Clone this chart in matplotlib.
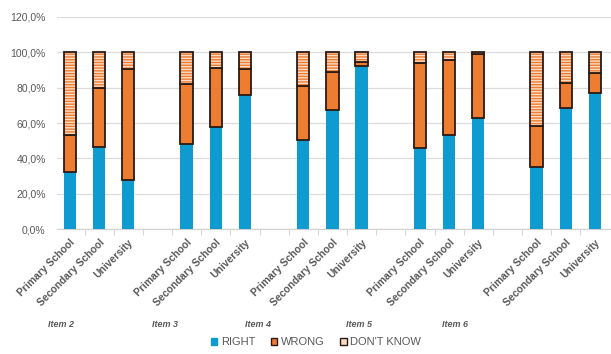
import numpy as np
import matplotlib
matplotlib.use('Agg')
import matplotlib.pyplot as plt
from matplotlib.patches import Patch
from matplotlib.ticker import FuncFormatter, MultipleLocator
import matplotlib.transforms as mtransforms

plt.rcParams['font.family'] = ['Liberation Sans', 'DejaVu Sans']

items = ['Item 2', 'Item 3', 'Item 4', 'Item 5', 'Item 6']
levels = ['Primary School', 'Secondary School', 'University']

# percentages per item, in order of levels
right = [[32.5, 46.5, 27.5],
         [48.0, 58.0, 76.0],
         [50.5, 67.5, 92.5],
         [46.0, 53.0, 63.0],
         [35.0, 68.5, 77.0]]
wrong = [[21.0, 33.5, 63.0],
         [34.0, 33.0, 14.5],
         [30.5, 21.5, 2.0],
         [48.0, 42.5, 36.0],
         [23.5, 14.0, 11.5]]
dont_know = [[46.5, 20.0, 9.5],
             [18.0, 9.0, 9.5],
             [19.0, 11.0, 5.5],
             [6.0, 4.5, 1.0],
             [41.5, 17.5, 11.5]]

BLUE = '#0e9bd0'
ORANGE = '#ed7d31'
PEACH = '#f9dcc6'
GRAY = '#595959'
EDGE = '#2b1a14'

fig = plt.figure(figsize=(6.11, 3.54), dpi=100)
ax = fig.add_axes([0.093, 0.353, 0.907, 0.599])

# 3 bars per item, one empty slot between items
xs, r, w, d = [], [], [], []
for i in range(len(items)):
    for j in range(len(levels)):
        xs.append(i * 4 + j)
        r.append(right[i][j])
        w.append(wrong[i][j])
        d.append(dont_know[i][j])
xs = np.array(xs)
r, w, d = np.array(r), np.array(w), np.array(d)

bw = 0.42
ax.bar(xs, r, bw, color=BLUE, zorder=3)
ax.bar(xs, w, bw, bottom=r, color=ORANGE, edgecolor=EDGE, linewidth=1.3, zorder=3)
ax.bar(xs, d, bw, bottom=r + w, color=PEACH, edgecolor=ORANGE,
       hatch='------', linewidth=0, zorder=3)
ax.bar(xs, d, bw, bottom=r + w, fill=False, edgecolor=EDGE, linewidth=1.3, zorder=4)

ax.set_ylim(0, 120)
ax.set_xlim(-0.45, 18.55)
ax.yaxis.set_major_locator(MultipleLocator(20))
ax.yaxis.set_major_formatter(FuncFormatter(lambda v, p: f'{v:.1f}%'.replace('.', ',')))
ax.grid(axis='y', color='#dcdcdc', linewidth=0.9, zorder=0)
for s in ['top', 'right', 'left']:
    ax.spines[s].set_visible(False)
ax.spines['bottom'].set_color('#d0d0d0')
ax.tick_params(axis='y', length=0, labelsize=7.5, labelcolor=GRAY, pad=8)

ax.set_xticks(xs)
ax.set_xticklabels([levels[k % 3] for k in range(len(xs))], rotation=45,
                   ha='right', rotation_mode='anchor', fontsize=7.4,
                   color=GRAY, fontweight='bold')
ax.tick_params(axis='x', length=0, pad=6)
# tick marks between slots
bounds = np.arange(0.5, 18.5, 1.0)
ax.set_xticks(bounds, minor=True)
ax.tick_params(axis='x', which='minor', length=4, color='#d0d0d0')

trans = mtransforms.blended_transform_factory(ax.transData, fig.transFigure)
item_x = [-0.3, 3.25, 6.45, 9.9, 13.2]
for name, x in zip(items, item_x):
    ax.text(x, 0.082, name, transform=trans, ha='center', va='center',
            fontsize=6.5, color=GRAY, fontstyle='italic', fontweight='bold')

handles = [Patch(facecolor=BLUE, edgecolor=BLUE),
           Patch(facecolor=ORANGE, edgecolor=EDGE),
           Patch(facecolor=PEACH, edgecolor=EDGE)]
leg = fig.legend(handles, ['RIGHT', 'WRONG', "DON'T KNOW"], loc='center',
                 bbox_to_anchor=(0.517, 0.033), ncol=3, frameon=False,
                 fontsize=8, handlelength=0.6, handleheight=0.6,
                 handletextpad=0.3, columnspacing=1.4, labelcolor=GRAY)

fig.savefig('out.png', dpi=100)
